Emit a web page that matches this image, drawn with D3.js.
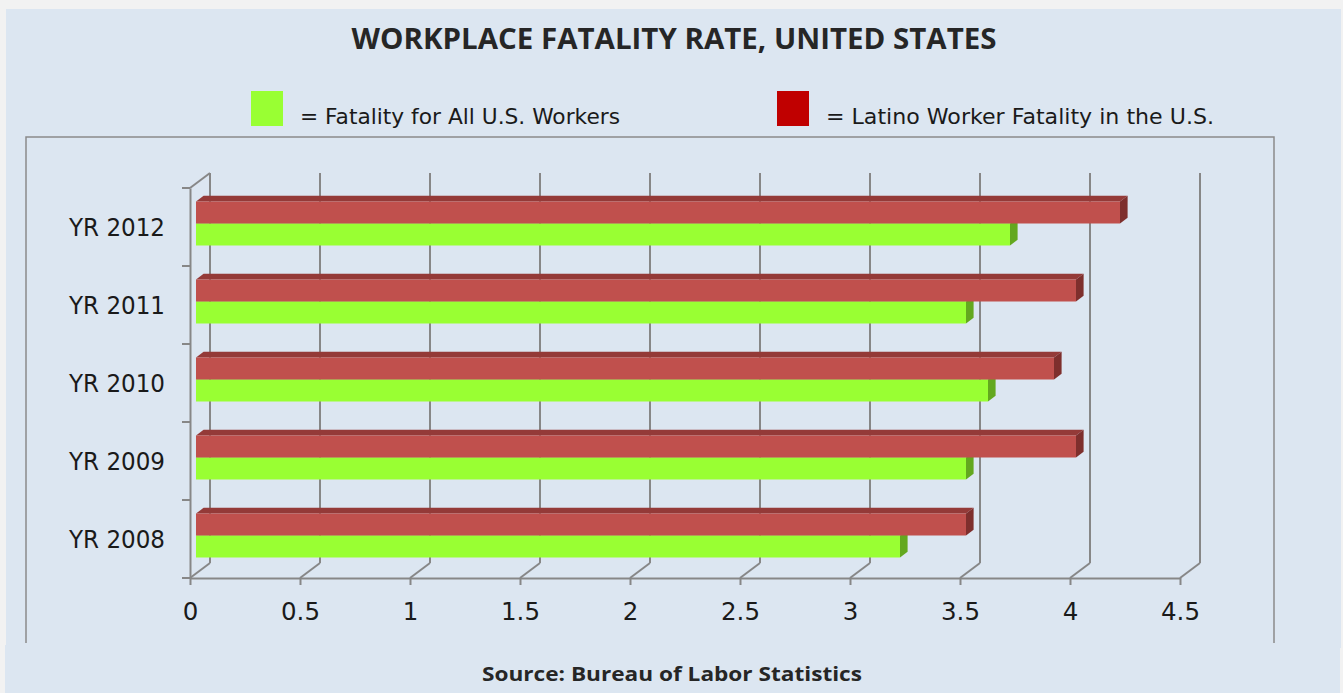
<!DOCTYPE html>
<html>
<head>
<meta charset="utf-8">
<script src="https://cdn.jsdelivr.net/npm/d3@7"></script>
<style>
  html, body { margin: 0; padding: 0; background: #f2f2f2; }
  svg { display: block; }
</style>
</head>
<body>
<svg id="chart" width="1343" height="693"></svg>
<script>
// ---- data ----
const categories = ["YR 2012", "YR 2011", "YR 2010", "YR 2009", "YR 2008"];
const allWorkers = [3.7, 3.5, 3.6, 3.5, 3.2];
const latinoWorkers = [4.2, 4.0, 3.9, 4.0, 3.5];
const tickValues = [0, 0.5, 1, 1.5, 2, 2.5, 3, 3.5, 4, 4.5];
const tickLabels = ["0", "0.5", "1", "1.5", "2", "2.5", "3", "3.5", "4", "4.5"];
const seriesNames = ["= Fatality for All U.S. Workers", "= Latino Worker Fatality in the U.S."];

const svg = d3.select("#chart");
const FONT = "'DejaVu Sans', sans-serif";

// panel backgrounds
svg.append("rect").attr("x", 6).attr("y", 9).attr("width", 1335).attr("height", 639).attr("fill", "#dce6f1");
svg.append("rect").attr("x", 5).attr("y", 645).attr("width", 1335).attr("height", 48).attr("fill", "#dce6f1");

// plot frame (left, top, right)
svg.append("path")
  .attr("d", "M26,643 L26,137 L1274,137 L1274,643")
  .attr("fill", "none").attr("stroke", "#8a8a8a").attr("stroke-width", 1.5);

// title
svg.append("text")
  .attr("x", 674).attr("y", 49)
  .attr("text-anchor", "middle")
  .attr("font-family", "'Open Sans', sans-serif").attr("font-weight", 700)
  .attr("font-size", 28).attr("fill", "#262626")
  .attr("textLength", 645).attr("lengthAdjust", "spacingAndGlyphs")
  .text("WORKPLACE FATALITY RATE, UNITED STATES");

// legend
const legendItems = [
  { color: "#99ff33", x: 251, tx: 300, tw: 320, label: seriesNames[0] },
  { color: "#c00000", x: 777, tx: 826, tw: 388, label: seriesNames[1] }
];
legendItems.forEach(d => {
  svg.append("rect").attr("x", d.x).attr("y", 91).attr("width", 32).attr("height", 35).attr("fill", d.color);
  svg.append("text").attr("x", d.tx).attr("y", 124)
    .attr("font-family", FONT).attr("font-size", 21).attr("fill", "#1a1a1a")
    .attr("textLength", d.tw).attr("lengthAdjust", "spacingAndGlyphs")
    .text(d.label);
});

// ---- scales (front plane) ----
const x = d3.scaleLinear().domain([0, 4.5]).range([190, 1180]);
const y = d3.scaleBand().domain(categories).range([188, 578]);
const DX = 20, DY = -15; // full depth offset
const off = f => [DX * f, DY * f];

const grid = svg.append("g").attr("stroke", "#878787").attr("stroke-width", 2).attr("fill", "none");
// back wall vertical gridlines
grid.selectAll("line.back").data(tickValues).join("line")
  .attr("x1", d => x(d) + DX).attr("x2", d => x(d) + DX)
  .attr("y1", y.range()[0] + DY).attr("y2", y.range()[1] + DY);
// floor diagonals
grid.selectAll("line.floor").data(tickValues).join("line")
  .attr("x1", d => x(d)).attr("y1", y.range()[1])
  .attr("x2", d => x(d) + DX).attr("y2", y.range()[1] + DY);
// top-left wall diagonal
grid.append("line").attr("x1", x(0)).attr("y1", y.range()[0]).attr("x2", x(0) + DX).attr("y2", y.range()[0] + DY);

// front axes via d3 axis
const xAxis = svg.append("g").attr("transform", `translate(0,${y.range()[1]})`)
  .call(d3.axisBottom(x).tickValues(tickValues).tickFormat((d, i) => tickLabels[i]).tickSize(7).tickSizeOuter(0).tickPadding(18));
xAxis.select(".domain").attr("stroke", "#878787").attr("stroke-width", 2);
xAxis.selectAll(".tick line").attr("stroke", "#878787").attr("stroke-width", 2);
xAxis.selectAll(".tick text").attr("font-family", FONT).attr("font-size", 24.5).attr("fill", "#1a1a1a");

const yAxis = svg.append("g").attr("transform", `translate(${x(0)},0)`)
  .call(d3.axisLeft(y).tickSize(0).tickPadding(25));
yAxis.select(".domain").attr("stroke", "#878787").attr("stroke-width", 2);
yAxis.selectAll(".tick text").attr("font-family", FONT).attr("font-size", 24).attr("fill", "#1a1a1a").attr("dy", "0.36em")
  .attr("textLength", 96).attr("lengthAdjust", "spacingAndGlyphs");
// category boundary ticks
const bounds = categories.map(c => y(c)).concat([y.range()[1]]);
svg.append("g").selectAll("line").data(bounds).join("line")
  .attr("x1", x(0) - 8).attr("x2", x(0)).attr("y1", d => d).attr("y2", d => d)
  .attr("stroke", "#878787").attr("stroke-width", 2);

// ---- 3D bars ----
const F0 = 0.3, F1 = 0.68;
const barH = 22;
function bar3d(g, v, yTop, front, top, side) {
  const [ox0, oy0] = off(F0), [ox1, oy1] = off(F1);
  const xl = x(0) + ox0, xr = x(v) + ox0;
  const yt = yTop + oy0, yb = yTop + barH + oy0;
  const ddx = ox1 - ox0, ddy = oy1 - oy0;
  g.append("path").attr("fill", top)
    .attr("d", `M${xl},${yt} L${xl + ddx},${yt + ddy} L${xr + ddx},${yt + ddy} L${xr},${yt} Z`);
  g.append("path").attr("fill", side)
    .attr("d", `M${xr},${yt} L${xr + ddx},${yt + ddy} L${xr + ddx},${yb + ddy} L${xr},${yb} Z`);
  g.append("rect").attr("fill", front).attr("x", xl).attr("y", yt).attr("width", xr - xl).attr("height", barH);
}
const bars = svg.append("g");
categories.forEach((c, i) => {
  const center = y(c) + y.bandwidth() / 2 + 1;
  const g = bars.append("g");
  bar3d(g, allWorkers[i], center, "#99ff33", "#7fd62a", "#63a81f");
  bar3d(g, latinoWorkers[i], center - barH, "#c0504d", "#943a38", "#7e2f2d");
});

// source
svg.append("text")
  .attr("x", 672).attr("y", 681)
  .attr("text-anchor", "middle")
  .attr("font-family", "'Open Sans', sans-serif").attr("font-weight", 700)
  .attr("font-size", 20).attr("fill", "#262626")
  .attr("textLength", 380).attr("lengthAdjust", "spacingAndGlyphs")
  .text("Source: Bureau of Labor Statistics");
</script>
</body>
</html>
